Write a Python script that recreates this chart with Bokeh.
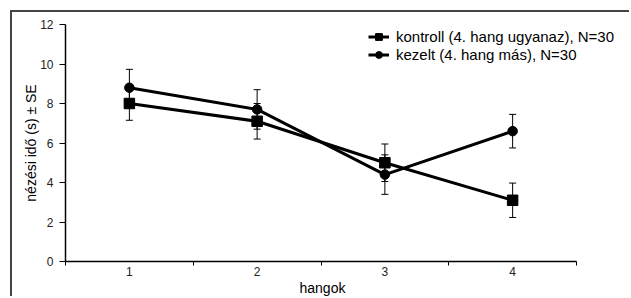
from bokeh.plotting import figure
from bokeh.models import (ColumnDataSource, Whisker, TeeHead, FixedTicker, Legend, LegendItem,
                          Range1d, Title)
from bokeh.embed import file_html
from bokeh.resources import INLINE

hangok = [1, 2, 3, 4]
kontroll = [8.0, 7.1, 5.0, 3.1]
kontroll_se = [0.85, 0.9, 0.95, 0.87]
kezelt = [8.8, 7.7, 4.4, 6.6]
kezelt_se = [0.93, 1.0, 1.0, 0.85]
y_ticks = [0, 2, 4, 6, 8, 10, 12]
x_labels = ["1", "2", "3", "4"]

FONT = "Liberation Sans"

# x scale: 0.5..4.5 spans 511 px; the frame is extended to the right (axis bounded)
p = figure(width=619, height=286, output_backend="svg", toolbar_location=None,
           x_range=Range1d(0.5, 4.5 + 53 / 127.75), y_range=Range1d(0, 12),
           min_border_left=53, min_border_right=2, min_border_top=12, min_border_bottom=37)
p.styles = {"border-top": "2px solid #444", "border-left": "2px solid #444",
            "margin-left": "10px", "margin-top": "10px"}
p.outline_line_color = None
p.grid.visible = False
p.background_fill_color = "white"
p.border_fill_color = "white"

src_k = ColumnDataSource(dict(x=hangok, y=kontroll,
                              lo=[v - s for v, s in zip(kontroll, kontroll_se)],
                              hi=[v + s for v, s in zip(kontroll, kontroll_se)]))
src_z = ColumnDataSource(dict(x=hangok, y=kezelt,
                              lo=[v - s for v, s in zip(kezelt, kezelt_se)],
                              hi=[v + s for v, s in zip(kezelt, kezelt_se)]))

for src in (src_k, src_z):
    w = Whisker(source=src, base="x", lower="lo", upper="hi", line_color="black", line_width=1,
                upper_head=TeeHead(size=7, line_color="black", line_width=1),
                lower_head=TeeHead(size=7, line_color="black", line_width=1), level="glyph")
    p.add_layout(w)

lk = p.line("x", "y", source=src_k, line_color="black", line_width=3)
mk = p.scatter("x", "y", source=src_k, marker="square", size=10.5, color="black")
lz = p.line("x", "y", source=src_z, line_color="black", line_width=3)
mz = p.scatter("x", "y", source=src_z, marker="circle", size=9.5, color="black")

legend = Legend(items=[LegendItem(label="kontroll (4. hang ugyanaz), N=30", renderers=[lk, mk]),
                       LegendItem(label="kezelt (4. hang más), N=30", renderers=[lz, mz])],
                location=(303, 198), orientation="vertical",
                label_text_font=FONT, label_text_font_size="15px", label_text_color="black",
                glyph_width=21, glyph_height=17, label_height=17, label_standoff=7,
                spacing=1, padding=0, margin=0,
                border_line_color=None, background_fill_alpha=0)
p.add_layout(legend)

# x axis title, placed under the bounded axis centre
p.add_layout(Title(text="hangok", align="left", offset=234, standoff=-2,
                   text_font=FONT, text_font_size="14px", text_font_style="normal",
                   text_color="black"), "below")

# axes
p.xaxis.bounds = (0.5, 4.5)
p.xaxis.ticker = FixedTicker(ticks=hangok, minor_ticks=[0.5, 1.5, 2.5, 3.5, 4.5])
p.xaxis.major_label_overrides = {h: l for h, l in zip(hangok, x_labels)}
p.xaxis.major_tick_out = 0
p.xaxis.major_tick_in = 0
p.xaxis.minor_tick_out = 4
p.xaxis.minor_tick_in = 0
p.xaxis.minor_tick_line_color = "black"
p.xaxis.major_label_standoff = 1

p.yaxis.ticker = FixedTicker(ticks=y_ticks)
p.yaxis.major_tick_out = 6
p.yaxis.major_tick_in = 0
p.yaxis.minor_tick_line_color = None
p.yaxis.axis_label = "nézési idő (s) ± SE"
p.yaxis.major_label_standoff = 6
p.yaxis.axis_label_standoff = -2

for ax in (p.xaxis, p.yaxis):
    ax.axis_line_color = "black"
    ax.axis_line_width = 1.5
    ax.major_tick_line_color = "black"
    ax.major_label_text_font = FONT
    ax.major_label_text_font_size = "12px"
    ax.major_label_text_color = "#222222"
    ax.axis_label_text_font = FONT
    ax.axis_label_text_font_size = "14px"
    ax.axis_label_text_font_style = "normal"
    ax.axis_label_text_color = "black"

open("out.html", "w").write(file_html(p, INLINE))
